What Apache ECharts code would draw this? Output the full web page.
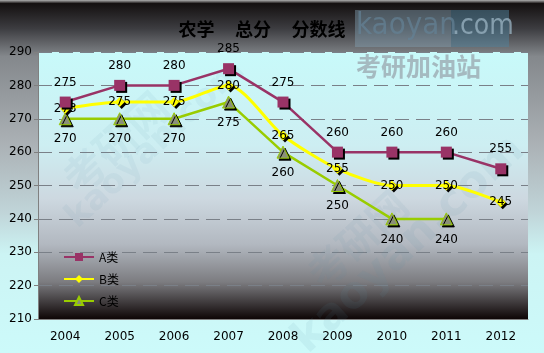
<!DOCTYPE html>
<html>
<head>
<meta charset="utf-8">
<style>
  html, body { margin: 0; padding: 0; }
  #chart { width: 544px; height: 353px; }
</style>
<script src="https://cdn.jsdelivr.net/npm/echarts@6/dist/echarts.min.js"></script>
</head>
<body>
<div id="chart"></div>
<script>
// years and scores
var years = ['2004', '2005', '2006', '2007', '2008', '2009', '2010', '2011', '2012']
var scoreA = [275, 280, 280, 285, 275, 260, 260, 260, 255]
var scoreB = [273, 275, 275, 280, 265, 255, 250, 250, 245]
var scoreC = [270, 270, 270, 275, 260, 250, 240, 240, null]
var seriesNames = ['A类', 'B类', 'C类']

var chart = echarts.init(document.getElementById('chart'))

var labelFont = { color: '#000', fontSize: 12, fontFamily: 'DejaVu Sans' }
var markShadow = { shadowColor: '#000', shadowOffsetX: 2, shadowOffsetY: 2, shadowBlur: 0 }

chart.setOption({
  animation: false,
  backgroundColor: {
    type: 'linear', x: 0, y: 0, x2: 0, y2: 1,
    colorStops: [
      { offset: 0, color: '#b0b0b0' },
      { offset: 0.01, color: '#141010' },
      { offset: 0.08, color: '#3c3c40' },
      { offset: 0.16, color: '#84888c' },
      { offset: 0.4, color: '#aab0b4' },
      { offset: 0.6, color: '#c0d4d8' },
      { offset: 0.72, color: '#ccf4f4' },
      { offset: 1, color: '#ccfafa' }
    ]
  },
  title: {
    text: '农学     总分     分数线',
    left: 257,
    textAlign: 'center',
    top: 15,
    textStyle: { color: '#000', fontSize: 18, fontWeight: 'bold', fontFamily: 'Noto Sans CJK SC' }
  },
  legend: {
    orient: 'vertical',
    left: 58,
    top: 246,
    itemGap: 10,
    itemWidth: 30,
    itemHeight: 10,
    textStyle: { color: '#000', fontSize: 12, fontFamily: 'Noto Sans CJK SC' },
    data: seriesNames
  },
  grid: {
    left: 38, right: 16, top: 52, bottom: 34,
    show: true,
    borderColor: 'transparent',
    backgroundColor: {
      type: 'linear', x: 0, y: 0, x2: 0, y2: 1,
      colorStops: [
        { offset: 0, color: '#c8fafa' },
        { offset: 0.35, color: '#cdeef2' },
        { offset: 0.55, color: '#cdd8e0' },
        { offset: 0.72, color: '#b2b8c0' },
        { offset: 0.86, color: '#7c7c80' },
        { offset: 1, color: '#0c0404' }
      ]
    }
  },
  xAxis: {
    type: 'category',
    data: years,
    boundaryGap: true,
    axisLine: { lineStyle: { color: '#808080', width: 1 } },
    axisTick: { alignWithLabel: false, length: 4, lineStyle: { color: '#808080' } },
    axisLabel: { color: '#000', fontSize: 12, fontFamily: 'DejaVu Sans', margin: 12 }
  },
  yAxis: {
    type: 'value',
    min: 210,
    max: 290,
    interval: 10,
    axisLine: { show: true, lineStyle: { color: '#808080', width: 1 } },
    axisTick: { show: true, length: 4, lineStyle: { color: '#808080' } },
    axisLabel: { color: '#000', fontSize: 12, fontFamily: 'DejaVu Sans', margin: 6 },
    splitLine: { show: true, lineStyle: { color: '#7a8088', type: [14, 7], width: 1 } }
  },
  graphic: [
    // watermark box "kaoyan.com"
    { type: 'rect', shape: { x: 355, y: 10, width: 96, height: 37 }, style: { fill: 'rgba(130,160,178,0.45)' }, z: 1 },
    { type: 'rect', shape: { x: 451, y: 10, width: 58, height: 37 }, style: { fill: 'rgba(80,130,155,0.5)' }, z: 1 },
    { type: 'text', left: 356, top: 10, z: 2, style: { text: 'kaoyan', fill: 'rgba(100,130,150,0.7)', font: '31px "DejaVu Sans Condensed"' } },
    { type: 'text', left: 452, top: 13, z: 2, style: { text: '.com', fill: 'rgba(150,175,190,0.8)', font: '28px "DejaVu Sans Condensed"' } },
    { type: 'text', left: 356, top: 54, z: 2, style: { text: '考研加油站', fill: 'rgba(150,160,168,0.7)', font: 'bold 25px "Noto Sans CJK SC"' } },
    // faint diagonal watermarks
    { type: 'text', x: 55, y: 170, rotation: Math.PI / 4.2, z: 2, style: { text: '考研网', fill: 'rgba(90,140,170,0.07)', font: 'bold 42px "Noto Sans CJK SC"' } },
    { type: 'text', x: 60, y: 210, rotation: Math.PI / 4.2, z: 2, style: { text: 'kaoyan.com', fill: 'rgba(90,140,170,0.07)', font: 'bold 34px "DejaVu Sans"' } },
    { type: 'text', x: 285, y: 330, rotation: Math.PI / 4.2, z: 2, style: { text: 'kaoyan.com', fill: 'rgba(90,140,170,0.09)', font: 'bold 44px "DejaVu Sans"' } },
    { type: 'text', x: 300, y: 265, rotation: Math.PI / 4.2, z: 2, style: { text: '考研网', fill: 'rgba(90,140,170,0.08)', font: 'bold 40px "Noto Sans CJK SC"' } }
  ],
  series: [
    {
      name: 'A类',
      type: 'line',
      data: scoreA,
      z: 4,
      symbol: 'rect',
      symbolSize: 11,
      lineStyle: { color: '#993366', width: 2.5 },
      itemStyle: Object.assign({ color: '#993366' }, markShadow),
      label: Object.assign({ show: true, position: 'top', distance: 8 }, labelFont)
    },
    {
      name: 'B类',
      type: 'line',
      data: scoreB,
      z: 3,
      smooth: 0.25,
      symbol: 'diamond',
      symbolSize: 10,
      lineStyle: { color: '#ffff00', width: 3 },
      itemStyle: Object.assign({ color: '#ffff00' }, markShadow),
      label: Object.assign({ show: true, position: 'inside' }, labelFont)
    },
    {
      name: 'C类',
      type: 'line',
      data: scoreC,
      z: 2,
      symbol: 'triangle',
      symbolSize: 12,
      lineStyle: { color: '#99cc00', width: 2.5 },
      itemStyle: Object.assign({ color: '#8a8f78', borderColor: '#99cc00', borderWidth: 1 }, markShadow),
      label: Object.assign({ show: true, position: 'bottom', distance: 8 }, labelFont)
    }
  ]
})
</script>
</body>
</html>
